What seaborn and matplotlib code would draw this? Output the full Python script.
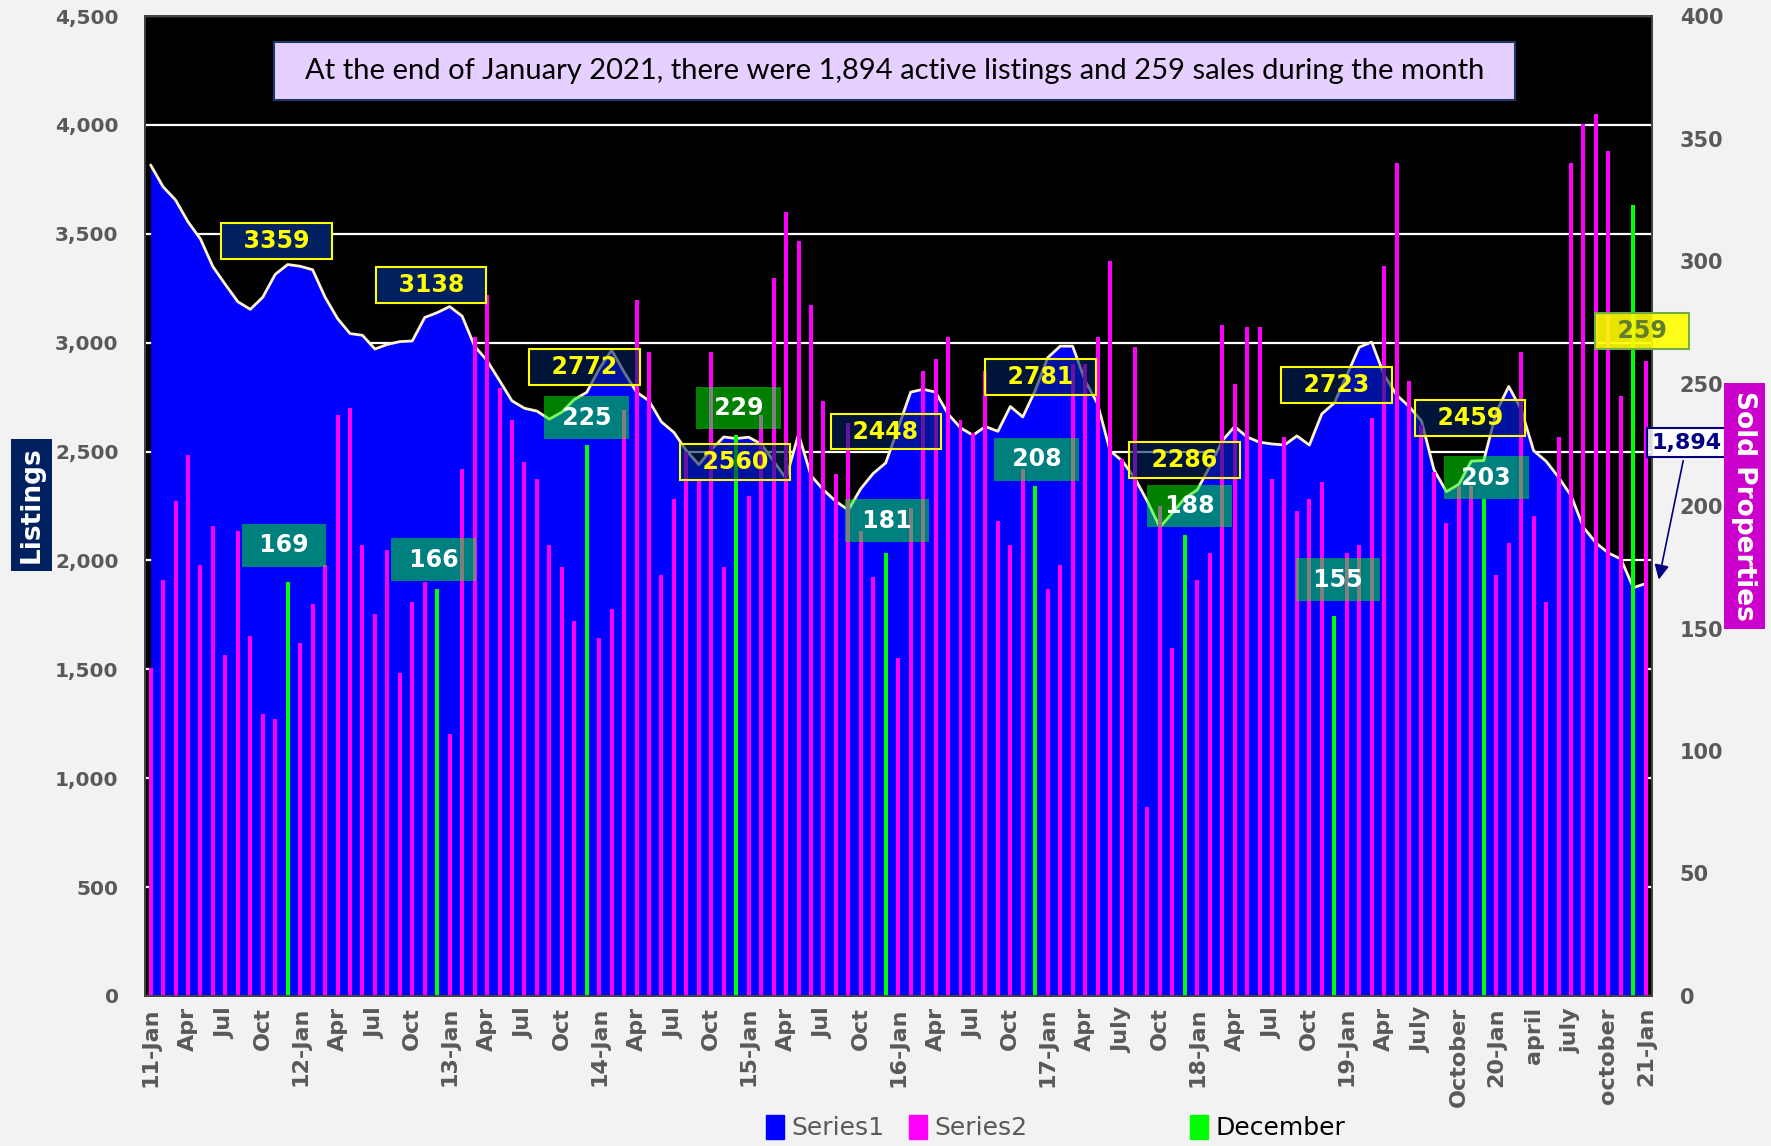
# Monthly active listings (area) and sold properties (bars), Jan 2011 - Jan 2021

import matplotlib
matplotlib.use("Agg")
import matplotlib.pyplot as plt
import matplotlib.patches as mpatches
import pandas as pd
import seaborn as sns

# 1. Data (one value per month, Jan 2011 .. Jan 2021)
listings = [3816, 3716, 3655, 3555, 3476, 3349, 3267, 3188, 3153, 3209, 3314, 3359,
            3351, 3335, 3209, 3111, 3042, 3034, 2971, 2992, 3005, 3008, 3116, 3138,
            3166, 3122, 2984, 2918, 2826, 2733, 2699, 2686, 2649, 2681, 2739, 2772,
            2879, 2966, 2865, 2773, 2733, 2636, 2588, 2504, 2440, 2509, 2567, 2560,
            2566, 2535, 2456, 2377, 2580, 2390, 2324, 2271, 2232, 2330, 2400, 2448,
            2609, 2773, 2786, 2773, 2673, 2609, 2575, 2615, 2593, 2707, 2659, 2781,
            2931, 2984, 2984, 2826, 2720, 2504, 2456, 2377, 2271, 2152, 2218, 2286,
            2324, 2430, 2549, 2615, 2567, 2543, 2535, 2530, 2572, 2530, 2673, 2723,
            2850, 2979, 3003, 2852, 2760, 2707, 2641, 2417, 2316, 2350, 2456, 2459,
            2681, 2799, 2694, 2504, 2456, 2382, 2298, 2152, 2081, 2034, 2007, 1875,
            1894]

sold = [134, 170, 202, 221, 176, 192, 139, 190, 147, 115, 113, 169,
        144, 160, 176, 237, 240, 184, 156, 182, 132, 161, 169, 166,
        107, 215, 269, 286, 248, 235, 218, 211, 184, 175, 153, 225,
        146, 158, 239, 284, 263, 172, 203, 222, 211, 263, 175, 229,
        204, 237, 293, 320, 308, 282, 243, 213, 234, 190, 171, 181,
        138, 199, 255, 260, 269, 235, 230, 255, 194, 184, 215, 208,
        166, 176, 258, 258, 269, 300, 219, 265, 77, 200, 142, 188,
        170, 181, 274, 250, 273, 273, 211, 228, 198, 203, 210, 155,
        181, 184, 236, 298, 340, 251, 233, 214, 193, 208, 208, 203,
        172, 185, 263, 196, 161, 228, 340, 356, 360, 345, 245, 323,
        259]

tick_labels = ["11-Jan", "Apr", "Jul", "Oct", "12-Jan", "Apr", "Jul", "Oct",
               "13-Jan", "Apr", "Jul", "Oct", "14-Jan", "Apr", "Jul", "Oct",
               "15-Jan", "Apr", "Jul", "Oct", "16-Jan", "Apr", "Jul", "Oct",
               "17-Jan", "Apr", "July", "Oct", "18-Jan", "Apr", "Jul", "Oct",
               "19-Jan", "Apr", "July", "October", "20-Jan", "april", "july",
               "october", "21-Jan"]

title_text = ("At the end of January 2021, there were 1,894 active listings "
              "and 259 sales during the month")

months = list(range(len(listings)))
december_idx = [i for i in months if i % 12 == 11]

# label box centres (month index, value on the matching axis)
listing_label_pos = [(10.1, 3468), (22.5, 3266), (34.8, 2888), (46.9, 2452),
                     (59.0, 2592), (71.4, 2841), (83.0, 2463), (95.2, 2805),
                     (105.9, 2654)]
sold_label_pos = [(10.7, 184), (22.7, 178), (35.0, 236), (47.2, 240),
                  (59.1, 194), (71.1, 219), (83.4, 200), (95.3, 170),
                  (107.2, 211.5)]

df = pd.DataFrame({
    "month": months,
    "listings": listings,
    "sold": sold,
    "kind": ["December" if i in december_idx else "Other" for i in months],
})

# 2. Figure setup
sns.set_theme(style="white")
plt.rcParams["font.family"] = ["DejaVu Sans"]

fig = plt.figure(figsize=(17.71, 11.46), dpi=100, facecolor="#F2F2F2")
ax = fig.add_axes([0.0819, 0.1309, 0.8509, 0.8551])
ax.set_facecolor("black")
ax2 = ax.twinx()

grey = "#595959"

# 3. Listings area + outline
ax.set_axisbelow(True)
ax.yaxis.grid(True, color="white", linewidth=1.6)
ax.fill_between(df["month"], df["listings"], 0, color="#0000FF", zorder=2, linewidth=0)
sns.lineplot(data=df, x="month", y="listings", ax=ax, color="#FFF2CC",
             linewidth=2, zorder=3)

# 4. Sold bars (December in green)
sns.barplot(data=df, x="month", y="sold", hue="kind",
            palette={"Other": "#FF00FF", "December": "#00FF00"},
            dodge=False, width=0.32, saturation=1, linewidth=0,
            legend=False, ax=ax2)

# 5. Axes, ticks
ax.set_xlim(-0.45, 120.5)
ax.set_ylim(0, 4500)
ax2.set_ylim(0, 400)

ax.set_xticks(range(0, len(months), 3))
ax.set_xticklabels(tick_labels, rotation=90, fontsize=16, fontweight="bold",
                   color=grey)
ax.set_yticks(range(0, 4501, 500))
ax.set_yticklabels([f"{v:,}" for v in range(0, 4501, 500)], fontsize=14.5,
                   fontweight="bold", color=grey)
ax2.set_yticks(range(0, 401, 50))
ax2.set_yticklabels([str(v) for v in range(0, 401, 50)], fontsize=15,
                    fontweight="bold", color=grey)
ax.tick_params(axis="y", length=0, pad=19)
ax.tick_params(axis="x", length=0, pad=8)
ax2.tick_params(axis="y", length=0, pad=20)
ax.set_xlabel("")
ax.set_ylabel("")
ax2.set_xlabel("")
ax2.set_ylabel("")
for a in (ax, ax2):
    for s in a.spines.values():
        s.set_color("#404040")
        s.set_linewidth(1.2)

# 6. December labels
for (px, py), i in zip(listing_label_pos, december_idx):
    alpha = 1.0 if i < 24 else 0.6
    ax2.text(px, py, f"  {listings[i]}  ", transform=ax.transData,
             ha="center", va="center", fontsize=17, fontweight="bold",
             color="#FFFF00", zorder=5,
             bbox=dict(boxstyle="square,pad=0.25",
                       fc=(0, 0.125, 0.376, alpha), ec="#FFFF00", lw=1.5))

for (px, py), i in zip(sold_label_pos, december_idx):
    ax2.text(px, py, f" {sold[i]} ", ha="center", va="center", fontsize=17,
             fontweight="bold", color="white", zorder=5,
             bbox=dict(boxstyle="square,pad=0.4", fc=(0, 1, 0, 0.5), ec="none"))

# last month callouts
ax2.text(119.7, 271.5, f"  {sold[-1]}  ", ha="center", va="center", fontsize=17,
         fontweight="bold", color="#5F7F2F", zorder=6, clip_on=False,
         bbox=dict(boxstyle="square,pad=0.25", fc=(1, 1, 0, 0.9),
                   ec="#70AD47", lw=1.5))
ax2.annotate(f"{listings[-1]:,}", xy=(121.0, 1900), xycoords=ax.transData,
             xytext=(123.3, 2540), textcoords=ax.transData,
             ha="center", va="center", fontsize=16, fontweight="bold",
             color="#000080", zorder=6, annotation_clip=False,
             bbox=dict(boxstyle="square,pad=0.2", fc=(1, 1, 1, 0.85),
                       ec="#000080", lw=1.5),
             arrowprops=dict(arrowstyle="-|>", color="#000080", lw=1.2,
                             mutation_scale=22))

# 7. Title box, axis titles, legend
fig.text(0.505, 0.938, f"  {title_text}  ", ha="center", va="center",
         fontsize=21, family=["Lato", "DejaVu Sans"], color="black",
         bbox=dict(boxstyle="square,pad=0.55", fc="#E6D0FF", ec="#1F3864", lw=1.5))

fig.text(0.0178, 0.5593, "Listings", rotation=90, ha="center", va="center",
         fontsize=19, fontweight="bold", color="white",
         bbox=dict(boxstyle="square,pad=0.3", fc="#002060", ec="none"))
fig.text(0.985, 0.5585, "Sold Properties", rotation=270, ha="center",
         va="center", fontsize=19, fontweight="bold", color="white",
         bbox=dict(boxstyle="square,pad=0.3", fc="#CC00CC", ec="none"))

handles = [mpatches.Patch(color="#0000FF"), mpatches.Patch(color="#FF00FF"),
           mpatches.Patch(color="none"), mpatches.Patch(color="#00FF00")]
labels = ["Series1", "Series2", "           ", "December"]
leg = fig.legend(handles, labels, loc="center", bbox_to_anchor=(0.596, 0.016),
                 ncol=4, frameon=False, fontsize=18, handlelength=0.7,
                 handleheight=1.1, handletextpad=0.3, columnspacing=1.0)
for t, c in zip(leg.get_texts(), [grey, grey, grey, "black"]):
    t.set_color(c)

fig.savefig("out.png", dpi=100, facecolor=fig.get_facecolor())
